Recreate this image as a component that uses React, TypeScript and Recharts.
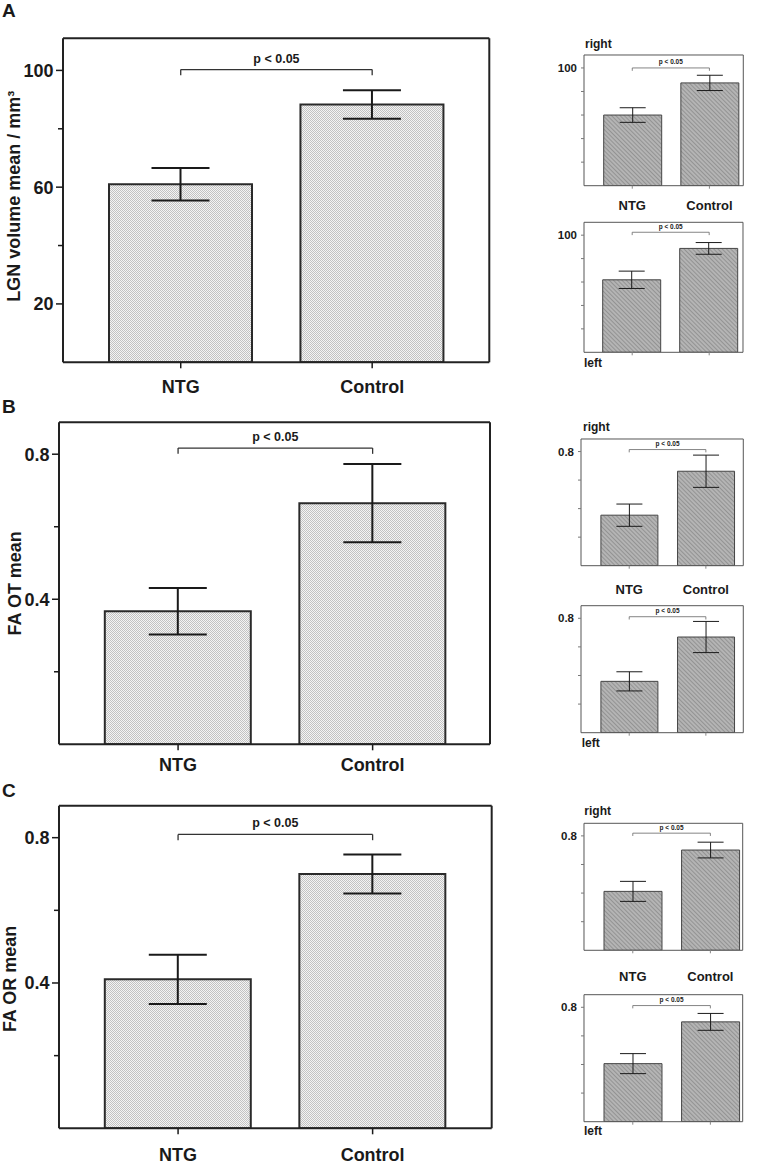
import React from "react";
import { BarChart, Bar, XAxis, YAxis, ErrorBar, ReferenceLine } from "recharts";

const groups = ["NTG", "Control"];

// A – LGN volume, mean ± error (mm³)
const lgnMean = [61.0, 88.3];
const lgnErr = [5.6, 4.9];
const lgnRightMean = [60.0, 87.3];
const lgnRightErr = [6.2, 6.5];
const lgnLeftMean = [61.9, 88.7];
const lgnLeftErr = [7.4, 5.0];

// B – FA of the optic tract
const otMean = [0.367, 0.665];
const otErr = [0.064, 0.108];
const otRightMean = [0.354, 0.662];
const otRightErr = [0.078, 0.113];
const otLeftMean = [0.359, 0.669];
const otLeftErr = [0.067, 0.109];

// C – FA of the optic radiation
const orMean = [0.41, 0.7];
const orErr = [0.068, 0.054];
const orRightMean = [0.412, 0.701];
const orRightErr = [0.07, 0.055];
const orLeftMean = [0.406, 0.698];
const orLeftErr = [0.07, 0.059];

const lgnMax = 111;
const faMax = 0.888;
const lgnTicks = [20, 40, 60, 80, 100];
const lgnBigLabels = [20, 60, 100];
const lgnSmallLabels = [100];
const faTicks = [0.2, 0.4, 0.6, 0.8];
const faBigLabels = [0.4, 0.8];
const faSmallLabels = [0.8];
const pText = "p < 0.05";

const FONT = '"Liberation Sans", Arial, Helvetica, sans-serif';
const INK = "#1a1a1a";

type Frame = { x: number; y: number; w: number; h: number };

type PanelProps = {
  id: string;
  frame: Frame;
  mean: number[];
  err: number[];
  max: number;
  ticks: number[];
  labelled: number[];
  bracket: number;
  pad: { left: number; right: number };
  barSize: number;
  big?: boolean;
  xLabels?: boolean;
  xGap?: number;
  yLabel?: string;
  yLabelX?: number;
  yLabelShift?: number;
};

const YTick = (props: any) => {
  const { x, y, payload, labelled, big } = props;
  const major = labelled.includes(payload.value);
  const len = big ? (major ? 7 : 5) : 3;
  return (
    <g>
      <line x1={x - len} x2={x} y1={y} y2={y} stroke={big ? INK : "#777"} strokeWidth={big ? 1.5 : 1} />
      {major && (
        <text
          x={x - len - (big ? 2.5 : 4)}
          y={y}
          dy="0.355em"
          textAnchor="end"
          fontFamily={FONT}
          fontWeight="bold"
          fontSize={big ? 18 : 11.5}
          fill={INK}
        >
          {payload.value}
        </text>
      )}
    </g>
  );
};

const XTick = (props: any) => {
  const { x, y, payload, big, show, gap } = props;
  return (
    <g>
      <line x1={x} x2={x} y1={y} y2={y + (big ? 6 : 3)} stroke={big ? INK : "#888"} strokeWidth={big ? 1.5 : 1} />
      {show && (
        <text
          x={x}
          y={y + gap}
          dy="0.71em"
          textAnchor="middle"
          fontFamily={FONT}
          fontWeight="bold"
          fontSize={big ? 18 : 13}
          fill={INK}
        >
          {payload.value}
        </text>
      )}
    </g>
  );
};

const YLabel = (props: any) => {
  const { viewBox, text, lx, shift } = props;
  const vb = viewBox || { y: 0, height: 0 };
  const cy = vb.y + vb.height / 2 + shift;
  return (
    <text
      x={lx}
      y={cy}
      transform={`rotate(-90, ${lx}, ${cy})`}
      textAnchor="middle"
      fontFamily={FONT}
      fontWeight="bold"
      fontSize={18}
      fill={INK}
    >
      {text}
    </text>
  );
};

const Panel = (p: PanelProps) => {
  const big = !!p.big;
  const axisW = big ? Math.round(p.frame.x) : 44;
  const left = Math.round(p.frame.x - axisW);
  const topEdge = Math.round(p.frame.y - 6);
  const top = p.frame.y - topEdge;
  const right = 6;
  const bottom = big ? 40 : 34;
  const width = p.frame.x - left + p.frame.w + right;
  const height = top + p.frame.h + bottom;
  const frameStroke = big ? "#222" : "#555";
  const frameWidth = big ? 2 : 1;
  const frameLine = { stroke: frameStroke, strokeWidth: frameWidth };
  const data = groups.map((g, i) => ({ group: g, mean: p.mean[i], err: p.err[i] }));
  const drop = p.max * (big ? 0.018 : 0.022);
  const bracketStroke = big ? "#333" : "#666";
  const bracketWidth = big ? 1.3 : 0.8;

  return (
    <div style={{ position: "absolute", left, top: topEdge }}>
      <BarChart
        width={width}
        height={height}
        data={data}
        margin={{ top: top - 1, right: right - 1, left: 0, bottom: 0 }}
      >
        <defs>
          <pattern id={`dots-${p.id}`} width={2} height={2} patternUnits="userSpaceOnUse">
            <rect width={2} height={2} fill="#f4f4f4" />
            <rect width={1} height={1} fill="#c2c2c2" />
            <rect x={1} y={1} width={1} height={1} fill="#c2c2c2" />
          </pattern>
          <pattern
            id={`hatch-${p.id}`}
            width={3}
            height={3}
            patternUnits="userSpaceOnUse"
            patternTransform="rotate(-45)"
          >
            <rect width={3} height={3} fill="#b4b4b4" />
            <line x1={0} y1={0} x2={0} y2={3} stroke="#7c7c7c" strokeWidth={1.2} />
          </pattern>
        </defs>
        <XAxis
          dataKey="group"
          height={bottom}
          padding={p.pad}
          interval={0}
          tickSize={0}
          tickMargin={0}
          axisLine={frameLine}
          tickLine={false}
          tick={(t: any) => <XTick {...t} big={big} show={!!p.xLabels} gap={p.xGap ?? 15} />}
        />
        <XAxis
          xAxisId="top"
          dataKey="group"
          orientation="top"
          height={1}
          padding={p.pad}
          tick={false}
          tickLine={false}
          axisLine={frameLine}
        />
        <YAxis
          type="number"
          domain={[0, p.max]}
          allowDataOverflow
          ticks={p.ticks}
          interval={0}
          width={axisW}
          tickSize={0}
          tickMargin={0}
          tickLine={false}
          axisLine={frameLine}
          tick={(t: any) => <YTick {...t} labelled={p.labelled} big={big} />}
          label={
            p.yLabel ? <YLabel text={p.yLabel} lx={p.yLabelX ?? 20} shift={p.yLabelShift ?? 0} /> : undefined
          }
        />
        <YAxis
          yAxisId="right"
          orientation="right"
          type="number"
          domain={[0, p.max]}
          allowDataOverflow
          width={1}
          tick={false}
          tickLine={false}
          axisLine={frameLine}
        />
        {/* invisible twin series so the top and right frame axes have something to scale */}
        <Bar
          dataKey="mean"
          xAxisId="top"
          yAxisId="right"
          barSize={1}
          fill="none"
          fillOpacity={0}
          stroke="none"
          isAnimationActive={false}
        />
        <Bar
          dataKey="mean"
          barSize={p.barSize}
          fill={big ? `url(#dots-${p.id})` : `url(#hatch-${p.id})`}
          stroke={big ? "#2a2a2a" : "#444"}
          strokeWidth={big ? 2 : 1}
          isAnimationActive={false}
        >
          <ErrorBar
            dataKey="err"
            direction="y"
            width={big ? 29 : 13}
            stroke={INK}
            strokeWidth={big ? 2 : 1}
            isAnimationActive={false}
          />
        </Bar>
        <ReferenceLine
          segment={[
            { x: groups[0], y: p.bracket },
            { x: groups[1], y: p.bracket },
          ]}
          stroke={bracketStroke}
          strokeWidth={bracketWidth}
          label={{
            value: pText,
            position: "top",
            offset: big ? 7 : 3.5,
            fontFamily: FONT,
            fontWeight: "bold",
            fontSize: big ? 12.5 : 6.5,
            fill: INK,
          }}
        />
        <ReferenceLine
          segment={[
            { x: groups[0], y: p.bracket },
            { x: groups[0], y: p.bracket - drop },
          ]}
          stroke={bracketStroke}
          strokeWidth={bracketWidth}
        />
        <ReferenceLine
          segment={[
            { x: groups[1], y: p.bracket },
            { x: groups[1], y: p.bracket - drop },
          ]}
          stroke={bracketStroke}
          strokeWidth={bracketWidth}
        />
      </BarChart>
    </div>
  );
};

const Tag = ({ x, y, size, children }: { x: number; y: number; size: number; children: React.ReactNode }) => (
  <div
    style={{
      position: "absolute",
      left: x,
      top: y,
      fontFamily: FONT,
      fontWeight: "bold",
      fontSize: size,
      lineHeight: "normal",
      color: INK,
      whiteSpace: "nowrap",
    }}
  >
    {children}
  </div>
);

const smallPadA = { left: 9.7, right: -4.7 };
const smallPadB = { left: 9.9, right: -0.9 };
const smallPadC = { left: 10, right: -6.5 };

export default function App() {
  return (
    <div style={{ position: "absolute", left: 0, top: 0, width: 759, height: 1164, background: "#fff", overflow: "hidden" }}>
      <Tag x={2} y={0.4} size={19}>A</Tag>
      <Tag x={2} y={396.4} size={19}>B</Tag>
      <Tag x={2} y={780.4} size={19}>C</Tag>

      <Panel
        id="a"
        big
        frame={{ x: 63.3, y: 38.3, w: 426, h: 324 }}
        mean={lgnMean}
        err={lgnErr}
        max={lgnMax}
        ticks={lgnTicks}
        labelled={lgnBigLabels}
        bracket={100.3}
        pad={{ left: 22, right: 21.4 }}
        barSize={143}
        xLabels
        xGap={17.7}
        yLabel="LGN volume mean / mm³"
        yLabelX={20.5}
        yLabelShift={-4}
      />
      <Tag x={585} y={37} size={12}>right</Tag>
      <Panel
        id="ar"
        frame={{ x: 584.3, y: 55, w: 159, h: 130.7 }}
        mean={lgnRightMean}
        err={lgnRightErr}
        max={lgnMax}
        ticks={lgnTicks}
        labelled={lgnSmallLabels}
        bracket={100}
        pad={smallPadA}
        barSize={58}
        xLabels
        xGap={15}
      />
      <Panel
        id="al"
        frame={{ x: 584.3, y: 222.3, w: 158.7, h: 130 }}
        mean={lgnLeftMean}
        err={lgnLeftErr}
        max={lgnMax}
        ticks={lgnTicks}
        labelled={lgnSmallLabels}
        bracket={102.5}
        pad={smallPadA}
        barSize={58}
      />
      <Tag x={584} y={356} size={12}>left</Tag>

      <Panel
        id="b"
        big
        frame={{ x: 59.3, y: 422.3, w: 430.7, h: 322 }}
        mean={otMean}
        err={otErr}
        max={faMax}
        ticks={faTicks}
        labelled={faBigLabels}
        bracket={0.817}
        pad={{ left: 21.8, right: 20.1 }}
        barSize={146}
        xLabels
        xGap={14}
        yLabel="FA OT mean"
        yLabelX={20.5}
        yLabelShift={0}
      />
      <Tag x={583} y={419.8} size={12}>right</Tag>
      <Panel
        id="br"
        frame={{ x: 580.7, y: 439, w: 162.6, h: 126.7 }}
        mean={otRightMean}
        err={otRightErr}
        max={faMax}
        ticks={faTicks}
        labelled={faSmallLabels}
        bracket={0.814}
        pad={smallPadB}
        barSize={57}
        xLabels
        xGap={19}
      />
      <Panel
        id="bl"
        frame={{ x: 580.7, y: 605.7, w: 162.6, h: 127 }}
        mean={otLeftMean}
        err={otLeftErr}
        max={faMax}
        ticks={faTicks}
        labelled={faSmallLabels}
        bracket={0.811}
        pad={smallPadB}
        barSize={57}
      />
      <Tag x={581.7} y={735.8} size={12}>left</Tag>

      <Panel
        id="c"
        big
        frame={{ x: 59.3, y: 805.7, w: 432.4, h: 322.6 }}
        mean={orMean}
        err={orErr}
        max={faMax}
        ticks={faTicks}
        labelled={faBigLabels}
        bracket={0.809}
        pad={{ left: 21.8, right: 21.8 }}
        barSize={146}
        xLabels
        xGap={20}
        yLabel="FA OR mean"
        yLabelX={15.7}
        yLabelShift={12}
      />
      <Tag x={584.3} y={804} size={12}>right</Tag>
      <Panel
        id="cr"
        frame={{ x: 584.3, y: 823.3, w: 158.4, h: 127 }}
        mean={orRightMean}
        err={orRightErr}
        max={faMax}
        ticks={faTicks}
        labelled={faSmallLabels}
        bracket={0.819}
        pad={smallPadC}
        barSize={58}
        xLabels
        xGap={21}
      />
      <Panel
        id="cl"
        frame={{ x: 584.3, y: 994.7, w: 158.4, h: 127 }}
        mean={orLeftMean}
        err={orLeftErr}
        max={faMax}
        ticks={faTicks}
        labelled={faSmallLabels}
        bracket={0.812}
        pad={smallPadC}
        barSize={58}
      />
      <Tag x={584} y={1124} size={12}>left</Tag>
    </div>
  );
}
